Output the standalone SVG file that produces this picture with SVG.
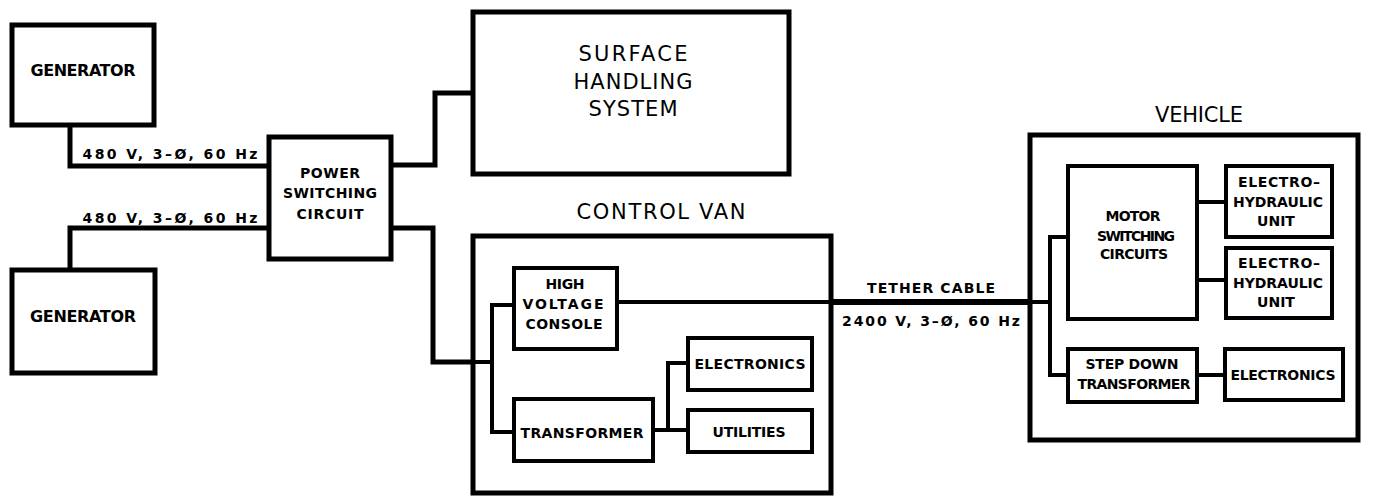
<svg xmlns="http://www.w3.org/2000/svg" width="1386" height="498" viewBox="0 0 1386 498">
<style>
.box{fill:#fff;stroke:#000;stroke-width:5}
.ibox{fill:#fff;stroke:#000;stroke-width:4}
.frame{fill:none;stroke:#000;stroke-width:5}
.w{fill:none;stroke:#000;stroke-width:5;stroke-linejoin:miter}
.wk{fill:none;stroke:#000;stroke-width:6}
.wt{fill:none;stroke:#000;stroke-width:4;stroke-linejoin:miter}
text{font-family:"DejaVu Sans","Liberation Sans",sans-serif;fill:#000;text-anchor:middle}
.b{font-size:16px;font-weight:bold}
.s{font-size:14px;font-weight:bold}
.l{font-size:21px}
</style>
<rect width="1386" height="498" fill="#fff"/>
<g id="connectors">
<polyline class="w" points="70,125 70,166 269,166"/>
<polyline class="w" points="70,268 70,228 269,228"/>
<polyline class="w" points="391,165 435,165 435,93 473,93"/>
<polyline class="w" points="391,228 433,228 433,362 473,362"/>
<polyline class="wt" points="473,362 492,362"/>
<polyline class="wt" points="513,305 492,305 492,432 513,432"/>
<polyline class="wt" points="653,430 687,430"/>
<polyline class="wt" points="687,363 668,363 668,430"/>
<polyline class="wt" points="617,302 832,302"/>
<polyline class="wk" points="832,302 1030,302"/>
<polyline class="wt" points="1030,302 1050,302"/>
<polyline class="wt" points="1068,237 1050,237 1050,375 1068,375"/>
<polyline class="wt" points="1197,202 1225,202"/>
<polyline class="wt" points="1197,280 1225,280"/>
<polyline class="wt" points="1197,375 1224,375"/>
</g>
<g id="generator1">
<rect class="box" x="12" y="25" width="142" height="100"/>
<text class="b" x="83" y="76" textLength="105" lengthAdjust="spacing">GENERATOR</text>
</g>
<g id="generator2">
<rect class="box" x="12" y="270" width="143" height="103"/>
<text class="b" x="83" y="322" textLength="106" lengthAdjust="spacing">GENERATOR</text>
</g>
<g id="label480a"><text class="s" x="170" y="159" textLength="175" lengthAdjust="spacing">480 V, 3–Ø, 60 Hz</text></g>
<g id="label480b"><text class="s" x="170" y="223" textLength="175" lengthAdjust="spacing">480 V, 3–Ø, 60 Hz</text></g>
<g id="power-switching">
<rect class="box" x="269" y="137" width="122" height="122"/>
<text class="s" x="330" y="178" textLength="60" lengthAdjust="spacing">POWER</text>
<text class="s" x="330" y="198" textLength="94" lengthAdjust="spacing">SWITCHING</text>
<text class="s" x="330" y="219" textLength="67" lengthAdjust="spacing">CIRCUIT</text>
</g>
<g id="surface-handling">
<rect class="box" x="473" y="12" width="316" height="162"/>
<text class="l" x="633" y="61" textLength="109" lengthAdjust="spacing">SURFACE</text>
<text class="l" x="633" y="89" textLength="119" lengthAdjust="spacing">HANDLING</text>
<text class="l" x="633" y="116" textLength="89" lengthAdjust="spacing">SYSTEM</text>
</g>
<g id="control-van">
<text class="l" x="661" y="219" textLength="169" lengthAdjust="spacing">CONTROL VAN</text>
<rect class="frame" x="473" y="236" width="358" height="257"/>
</g>
<g id="hv-console">
<rect class="ibox" x="514" y="268" width="103" height="81"/>
<text class="s" x="565" y="289" textLength="39" lengthAdjust="spacing">HIGH</text>
<text class="s" x="563" y="309" textLength="81" lengthAdjust="spacing">VOLTAGE</text>
<text class="s" x="564" y="329" textLength="77" lengthAdjust="spacing">CONSOLE</text>
</g>
<g id="transformer">
<rect class="ibox" x="514" y="399" width="139" height="62"/>
<text class="s" x="582" y="438" textLength="123" lengthAdjust="spacing">TRANSFORMER</text>
</g>
<g id="electronics-van">
<rect class="ibox" x="688" y="338" width="124" height="52"/>
<text class="s" x="750" y="369" textLength="111" lengthAdjust="spacing">ELECTRONICS</text>
</g>
<g id="utilities">
<rect class="ibox" x="688" y="410" width="124" height="42"/>
<text class="s" x="749" y="437" textLength="73" lengthAdjust="spacing">UTILITIES</text>
</g>
<g id="tether-labels">
<text class="s" x="931" y="293" textLength="128" lengthAdjust="spacing">TETHER CABLE</text>
<text class="s" x="931" y="326" textLength="178" lengthAdjust="spacing">2400 V, 3–Ø, 60 Hz</text>
</g>
<g id="vehicle">
<text class="l" x="1199" y="122" textLength="88" lengthAdjust="spacing">VEHICLE</text>
<rect class="frame" x="1030" y="135" width="328" height="305"/>
</g>
<g id="motor-switching">
<rect class="ibox" x="1068" y="166" width="129" height="153"/>
<text class="s" x="1133" y="221" textLength="55" lengthAdjust="spacing">MOTOR</text>
<text class="s" x="1136" y="241" textLength="78" lengthAdjust="spacing">SWITCHING</text>
<text class="s" x="1134" y="259" textLength="68" lengthAdjust="spacing">CIRCUITS</text>
</g>
<g id="electro-hydraulic1">
<rect class="ibox" x="1226" y="166" width="106" height="71"/>
<text class="s" x="1279" y="187" textLength="82" lengthAdjust="spacing">ELECTRO–</text>
<text class="s" x="1278" y="207" textLength="90" lengthAdjust="spacing">HYDRAULIC</text>
<text class="s" x="1276" y="226">UNIT</text>
</g>
<g id="electro-hydraulic2">
<rect class="ibox" x="1226" y="248" width="106" height="70"/>
<text class="s" x="1279" y="268" textLength="82" lengthAdjust="spacing">ELECTRO–</text>
<text class="s" x="1278" y="288" textLength="90" lengthAdjust="spacing">HYDRAULIC</text>
<text class="s" x="1276" y="307">UNIT</text>
</g>
<g id="step-down">
<rect class="ibox" x="1068" y="349" width="129" height="53"/>
<text class="s" x="1132" y="369" textLength="93" lengthAdjust="spacing">STEP DOWN</text>
<text class="s" x="1134" y="389" textLength="113" lengthAdjust="spacing">TRANSFORMER</text>
</g>
<g id="electronics-vehicle">
<rect class="ibox" x="1225" y="349" width="118" height="51"/>
<text class="s" x="1283" y="380" textLength="105" lengthAdjust="spacing">ELECTRONICS</text>
</g>
</svg>
